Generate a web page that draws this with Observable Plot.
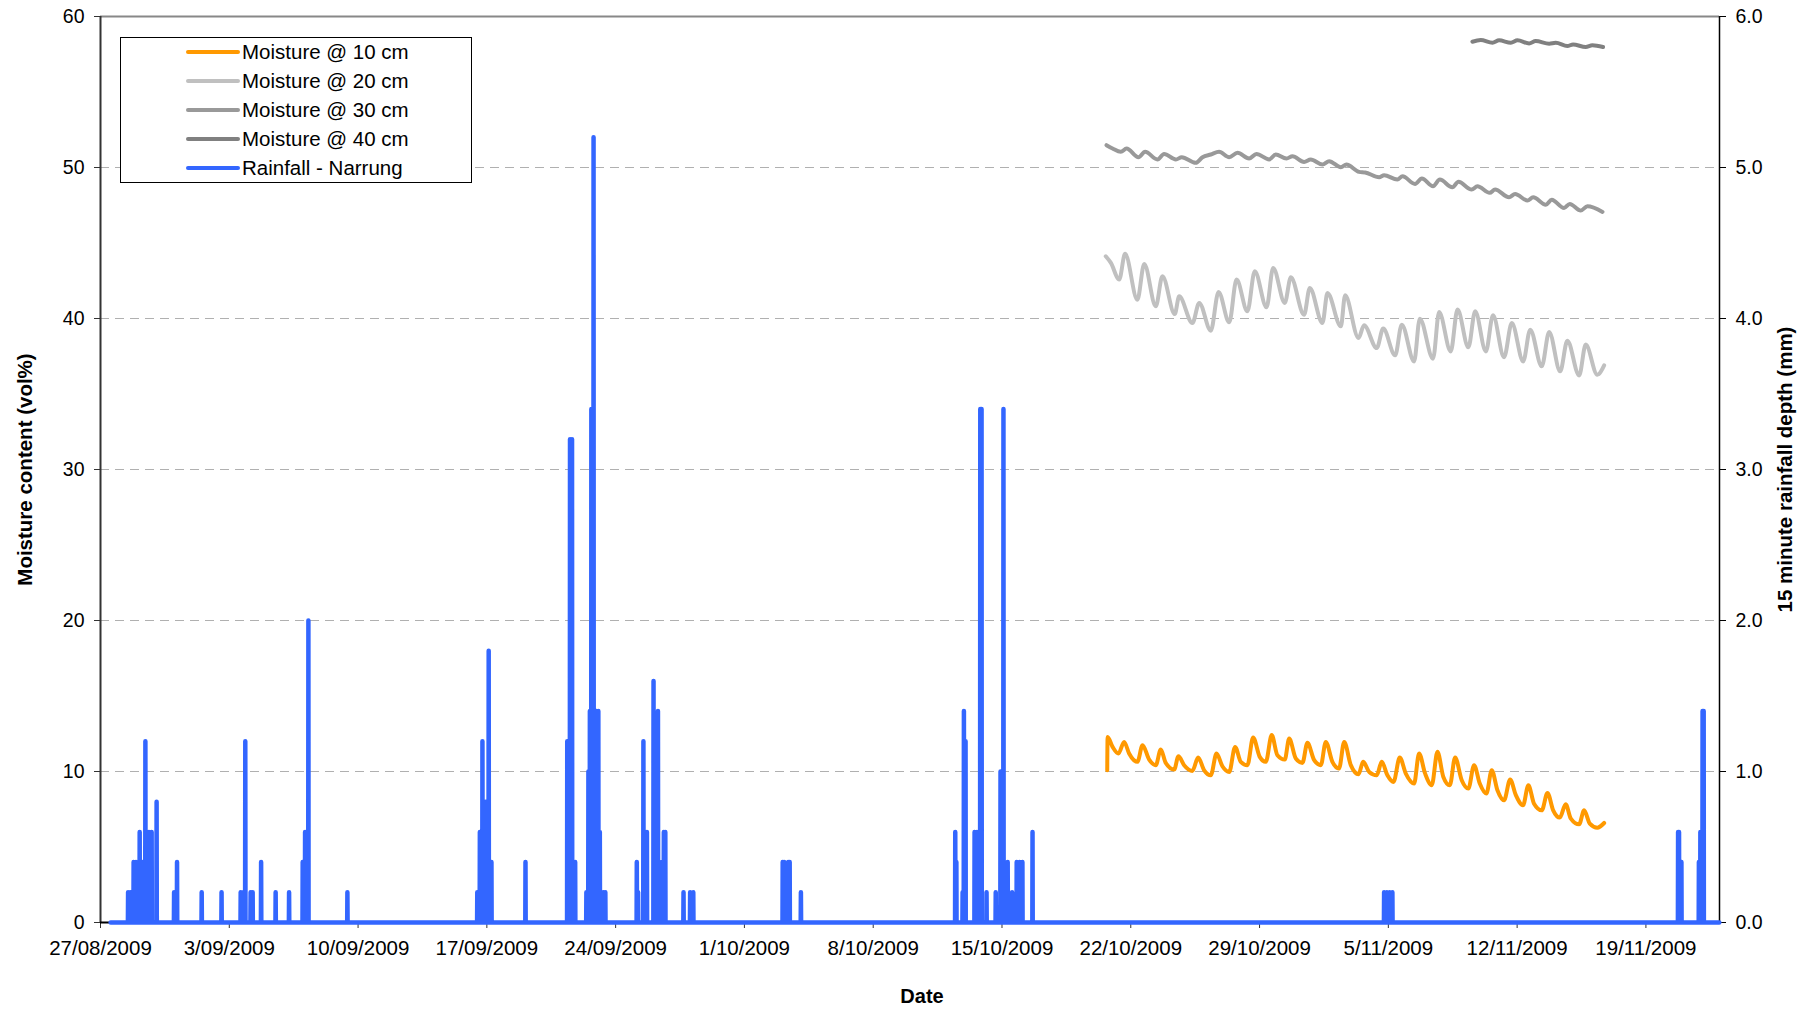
<!DOCTYPE html>
<html>
<head>
<meta charset="utf-8">
<script src="https://cdn.jsdelivr.net/npm/d3@7"></script>
<script src="https://cdn.jsdelivr.net/npm/@observablehq/plot@0.6"></script>
<style>
  html, body { margin: 0; padding: 0; background: #fff; }
  #wrap { position: relative; width: 1814px; height: 1011px; font-family: "Liberation Sans", Arial, sans-serif; }
  #legend { position: absolute; left: 120px; top: 37px; width: 350px; height: 144px; border: 1px solid #000; background: #fff; }
</style>
</head>
<body>
<div id="wrap"><div id="legend"></div></div>
<script>
// ---------------- DATA ----------------
// time is given in days since 27/08/2009 00:00
const originDate = "2009-08-27";
const xTickDates = ["2009-08-27","2009-09-03","2009-09-10","2009-09-17","2009-09-24","2009-10-01","2009-10-08","2009-10-15","2009-10-22","2009-10-29","2009-11-05","2009-11-12","2009-11-19"];
const xDomainDays = [0, 88];
const moistureTicks = [0, 10, 20, 30, 40, 50, 60];
const rainTicks = [0, 1, 2, 3, 4, 5, 6];
const seriesNames = ["Moisture @ 10 cm", "Moisture @ 20 cm", "Moisture @ 30 cm", "Moisture @ 40 cm", "Rainfall - Narrung"];
const seriesColors = ["#FF9900", "#C0C0C0", "#999999", "#808080", "#3366FF"];

// Moisture @ 10 cm  [day, vol%]
const moist10 = [[54.72,10.08],[54.74,12.29],[55.01,11.63],[55.33,11.19],[55.64,11.96],[55.91,11.19],[56.36,10.64],[56.64,11.74],[57.00,10.79],[57.36,10.42],[57.63,11.45],[57.90,10.57],[58.36,10.13],[58.59,11.01],[58.90,10.42],[59.35,10.04],[59.66,10.92],[59.99,10.08],[60.35,9.75],[60.66,11.19],[60.98,10.35],[61.35,9.97],[61.67,11.63],[61.98,10.64],[62.34,10.42],[62.65,12.25],[63.01,10.97],[63.34,10.64],[63.66,12.41],[63.97,11.08],[64.37,10.79],[64.61,12.18],[64.97,10.86],[65.33,10.57],[65.60,11.90],[65.97,10.75],[66.33,10.42],[66.60,11.96],[66.96,10.64],[67.32,10.20],[67.60,11.96],[67.96,10.42],[68.38,9.82],[68.63,10.64],[68.96,9.97],[69.37,9.75],[69.64,10.64],[69.95,9.75],[70.28,9.31],[70.62,10.92],[70.95,9.86],[71.40,9.20],[71.67,11.19],[72.00,9.86],[72.36,9.09],[72.67,11.30],[72.99,9.64],[73.34,9.09],[73.63,10.92],[73.99,9.42],[74.35,8.87],[74.66,10.42],[74.97,9.20],[75.33,8.54],[75.62,10.08],[75.93,8.76],[76.29,8.09],[76.62,9.47],[76.93,8.43],[77.32,7.76],[77.61,9.09],[77.92,7.87],[78.34,7.43],[78.65,8.58],[78.96,7.43],[79.32,6.95],[79.64,7.83],[79.92,6.88],[80.37,6.50],[80.64,7.43],[80.95,6.55],[81.36,6.28],[81.73,6.59]];

// Moisture @ 20 cm
const moist20 = [[54.64,44.12],[54.92,43.68],[55.37,42.58],[55.69,44.28],[56.36,41.25],[56.73,43.61],[57.36,40.81],[57.72,42.80],[58.39,40.30],[58.63,41.47],[59.35,39.70],[59.72,41.03],[60.35,39.19],[60.77,41.76],[61.35,39.75],[61.75,42.58],[62.34,40.48],[62.74,43.13],[63.38,40.74],[63.74,43.35],[64.37,41.03],[64.70,42.73],[65.42,40.25],[65.73,42.02],[66.42,39.70],[66.69,41.69],[67.42,39.48],[67.65,41.54],[68.38,38.71],[68.68,39.55],[69.37,38.04],[69.72,39.33],[70.37,37.56],[70.73,39.59],[71.40,37.16],[71.71,39.99],[72.43,37.34],[72.76,40.43],[73.39,37.82],[73.76,40.59],[74.35,38.09],[74.72,40.48],[75.30,37.82],[75.69,40.21],[76.29,37.43],[76.71,39.70],[77.33,37.16],[77.71,39.26],[78.34,36.83],[78.74,39.11],[79.34,36.50],[79.73,38.53],[80.37,36.23],[80.73,38.27],[81.36,36.28],[81.73,36.90]];

// Moisture @ 30 cm
const moist30 = [[54.68,51.48],[55.01,51.26],[55.46,51.04],[55.77,51.26],[56.42,50.68],[56.78,51.04],[57.45,50.53],[57.81,50.90],[58.45,50.53],[58.77,50.68],[59.53,50.31],[59.90,50.68],[60.35,50.86],[60.80,51.04],[61.35,50.68],[61.80,50.97],[62.43,50.59],[62.83,50.90],[63.52,50.53],[63.88,50.86],[64.46,50.59],[64.79,50.75],[65.42,50.37],[65.78,50.53],[66.42,50.20],[66.78,50.42],[67.42,50.02],[67.72,50.20],[68.41,49.71],[68.74,49.67],[69.50,49.36],[69.77,49.49],[70.49,49.20],[70.77,49.42],[71.45,48.91],[71.82,49.27],[72.43,48.76],[72.80,49.20],[73.48,48.69],[73.81,49.05],[74.53,48.54],[74.84,48.76],[75.51,48.32],[75.80,48.54],[76.56,48.03],[76.89,48.25],[77.56,47.81],[77.87,48.03],[78.56,47.54],[78.88,47.87],[79.55,47.32],[79.86,47.59],[80.46,47.15],[80.82,47.43],[81.64,47.06]];

// Moisture @ 40 cm
const moist40 = [[74.57,58.33],[75.02,58.44],[75.66,58.26],[76.02,58.42],[76.66,58.26],[77.02,58.42],[77.65,58.22],[78.01,58.37],[78.74,58.20],[79.10,58.26],[79.73,58.04],[80.04,58.15],[80.73,57.98],[81.09,58.09],[81.67,57.98]];

// Rainfall - Narrung: non-zero 15 minute readings [day, mm]; all other readings are 0
const rainRecordDays = [0.55, 87.99];
const rainEvents = [
  [1.50,0.2],[1.62,0.2],[1.80,0.4],[1.93,0.4],[2.13,0.6],[2.30,0.4],[2.44,1.2],[2.63,0.6],[2.78,0.6],[3.05,0.8],
  [4.00,0.2],[4.16,0.4],[5.50,0.2],[6.58,0.2],[7.62,0.2],[7.75,0.2],[7.87,1.2],[8.16,0.2],[8.27,0.2],[8.73,0.4],
  [9.52,0.2],[10.25,0.2],[10.99,0.4],[11.12,0.6],[11.30,2.0],[13.42,0.2],
  [20.48,0.2],[20.62,0.6],[20.76,1.2],[20.92,0.8],[21.10,1.8],[21.25,0.4],[23.10,0.4],
  [25.37,1.2],[25.52,3.2],[25.63,3.2],[25.80,0.4],
  [26.41,0.2],[26.52,1.0],[26.60,1.4],[26.68,3.4],[26.80,5.2],[26.95,1.4],[27.06,1.4],[27.14,0.6],[27.33,0.2],[27.44,0.2],
  [29.15,0.4],[29.22,0.2],[29.51,1.2],[29.70,0.6],[30.06,1.6],[30.30,1.4],[30.51,0.4],[30.62,0.6],[30.70,0.6],[31.69,0.2],[32.05,0.2],[32.22,0.2],
  [37.08,0.4],[37.16,0.4],[37.38,0.4],[37.46,0.4],[38.07,0.2],
  [46.46,0.6],[46.52,0.4],[46.86,0.2],[46.93,1.4],[47.02,1.2],[47.51,0.6],[47.64,0.6],[47.82,3.4],[47.89,3.4],[48.16,0.2],
  [48.66,0.2],[48.92,1.0],[49.08,3.4],[49.31,0.4],[49.55,0.2],[49.80,0.4],[49.96,0.4],[50.11,0.4],[50.66,0.6],
  [69.77,0.2],[69.92,0.2],[70.07,0.2],[70.22,0.2],
  [85.75,0.6],[85.80,0.6],[85.93,0.4],[86.88,0.4],[86.96,0.6],[87.08,1.4],[87.14,1.4]
];

// ---------------- BUILD ----------------
const origin = Date.parse(originDate + "T00:00:00Z");
const toDate = d => new Date(origin + d * 864e5);
const toRows = arr => arr.map(([d, v]) => ({t: toDate(d), v}));
const step = 1 / 96; // 15 minutes
const rainRows = [{t: toDate(rainRecordDays[0]), mm: 0}];
for (const [d, mm] of rainEvents) {
  rainRows.push({t: toDate(d - step), mm: 0}, {t: toDate(d), mm}, {t: toDate(d + step), mm: 0});
}
rainRows.push({t: toDate(rainRecordDays[1]), mm: 0});
rainRows.sort((a, b) => a.t - b.t);

const font = "'Liberation Sans', Arial, Helvetica, sans-serif";
const lineOpts = (color) => ({x: "t", y: "v", stroke: color, strokeWidth: 4, curve: "monotone-x", strokeLinecap: "round", strokeLinejoin: "round"});

const chart = Plot.plot({
  width: 1814,
  height: 1011,
  marginLeft: 100,
  marginRight: 95,
  marginTop: 16,
  marginBottom: 89,
  x: {type: "utc", domain: xDomainDays.map(toDate)},
  y: {domain: [0, 60]},
  style: {fontFamily: font, fontSize: "20px", color: "#000", background: "#fff", overflow: "visible"},
  marks: [
    Plot.gridY(moistureTicks.filter(v => v > 0 && v < 60), {stroke: "#b0b0b0", strokeOpacity: 1, strokeDasharray: "9,6", strokeWidth: 1}),
    Plot.ruleY([60], {stroke: "#888", strokeWidth: 2}),
    Plot.axisY({anchor: "left", ticks: moistureTicks, tickSize: 6, tickPadding: 10, label: null, fontSize: 19.5, stroke: "#333"}),
    Plot.axisY({anchor: "right", ticks: rainTicks.map(v => v * 10), tickFormat: v => (v / 10).toFixed(1), tickSize: 6, tickPadding: 10, label: null, fontSize: 19.5, stroke: "#000"}),
    Plot.axisX({ticks: xTickDates.map(s => new Date(s + "T00:00:00Z")), tickFormat: d3.utcFormat("%-d/%m/%Y"), tickSize: 6, tickPadding: 12, label: null, fontSize: 20.5, stroke: "#333"}),
    Plot.ruleX([toDate(xDomainDays[0])], {stroke: "#333", strokeWidth: 2}),
    Plot.ruleX([toDate(xDomainDays[1])], {stroke: "#000", strokeWidth: 1.5}),
    Plot.ruleY([0], {stroke: "#000", strokeWidth: 2}),
    Plot.line(toRows(moist10), lineOpts(seriesColors[0])),
    Plot.line(toRows(moist20), lineOpts(seriesColors[1])),
    Plot.line(toRows(moist30), lineOpts(seriesColors[2])),
    Plot.line(toRows(moist40), lineOpts(seriesColors[3])),
    Plot.line(rainRows, {x: "t", y: d => d.mm * 10, stroke: seriesColors[4], strokeWidth: 4.5, strokeLinecap: "round", strokeLinejoin: "round"}),
    Plot.text(["Moisture content (vol%)"], {frameAnchor: "left", textAnchor: "middle", dx: -75, rotate: -90, fontWeight: "bold", fontSize: 20.5, fill: "#000"}),
    Plot.text(["15 minute rainfall depth (mm)"], {frameAnchor: "right", textAnchor: "middle", dx: 66, rotate: -90, fontWeight: "bold", fontSize: 20.5, fill: "#000"}),
    Plot.text(["Date"], {frameAnchor: "bottom", textAnchor: "middle", dx: 12, dy: 80, fontWeight: "bold", fontSize: 20, fill: "#000"})
  ]
});
document.getElementById("wrap").insertBefore(chart, document.getElementById("legend"));

// legend
const legend = d3.select("#legend").append("svg").attr("width", 350).attr("height", 144)
  .style("font-family", font);
seriesNames.forEach((name, i) => {
  const cy = 14 + i * 29;
  legend.append("line").attr("x1", 67).attr("x2", 117).attr("y1", cy).attr("y2", cy)
    .attr("stroke", seriesColors[i]).attr("stroke-width", 4).attr("stroke-linecap", "round");
  legend.append("text").attr("x", 121).attr("y", cy).attr("dy", "0.35em")
    .attr("font-size", 20.5).attr("fill", "#000").text(name);
});
</script>
</body>
</html>
